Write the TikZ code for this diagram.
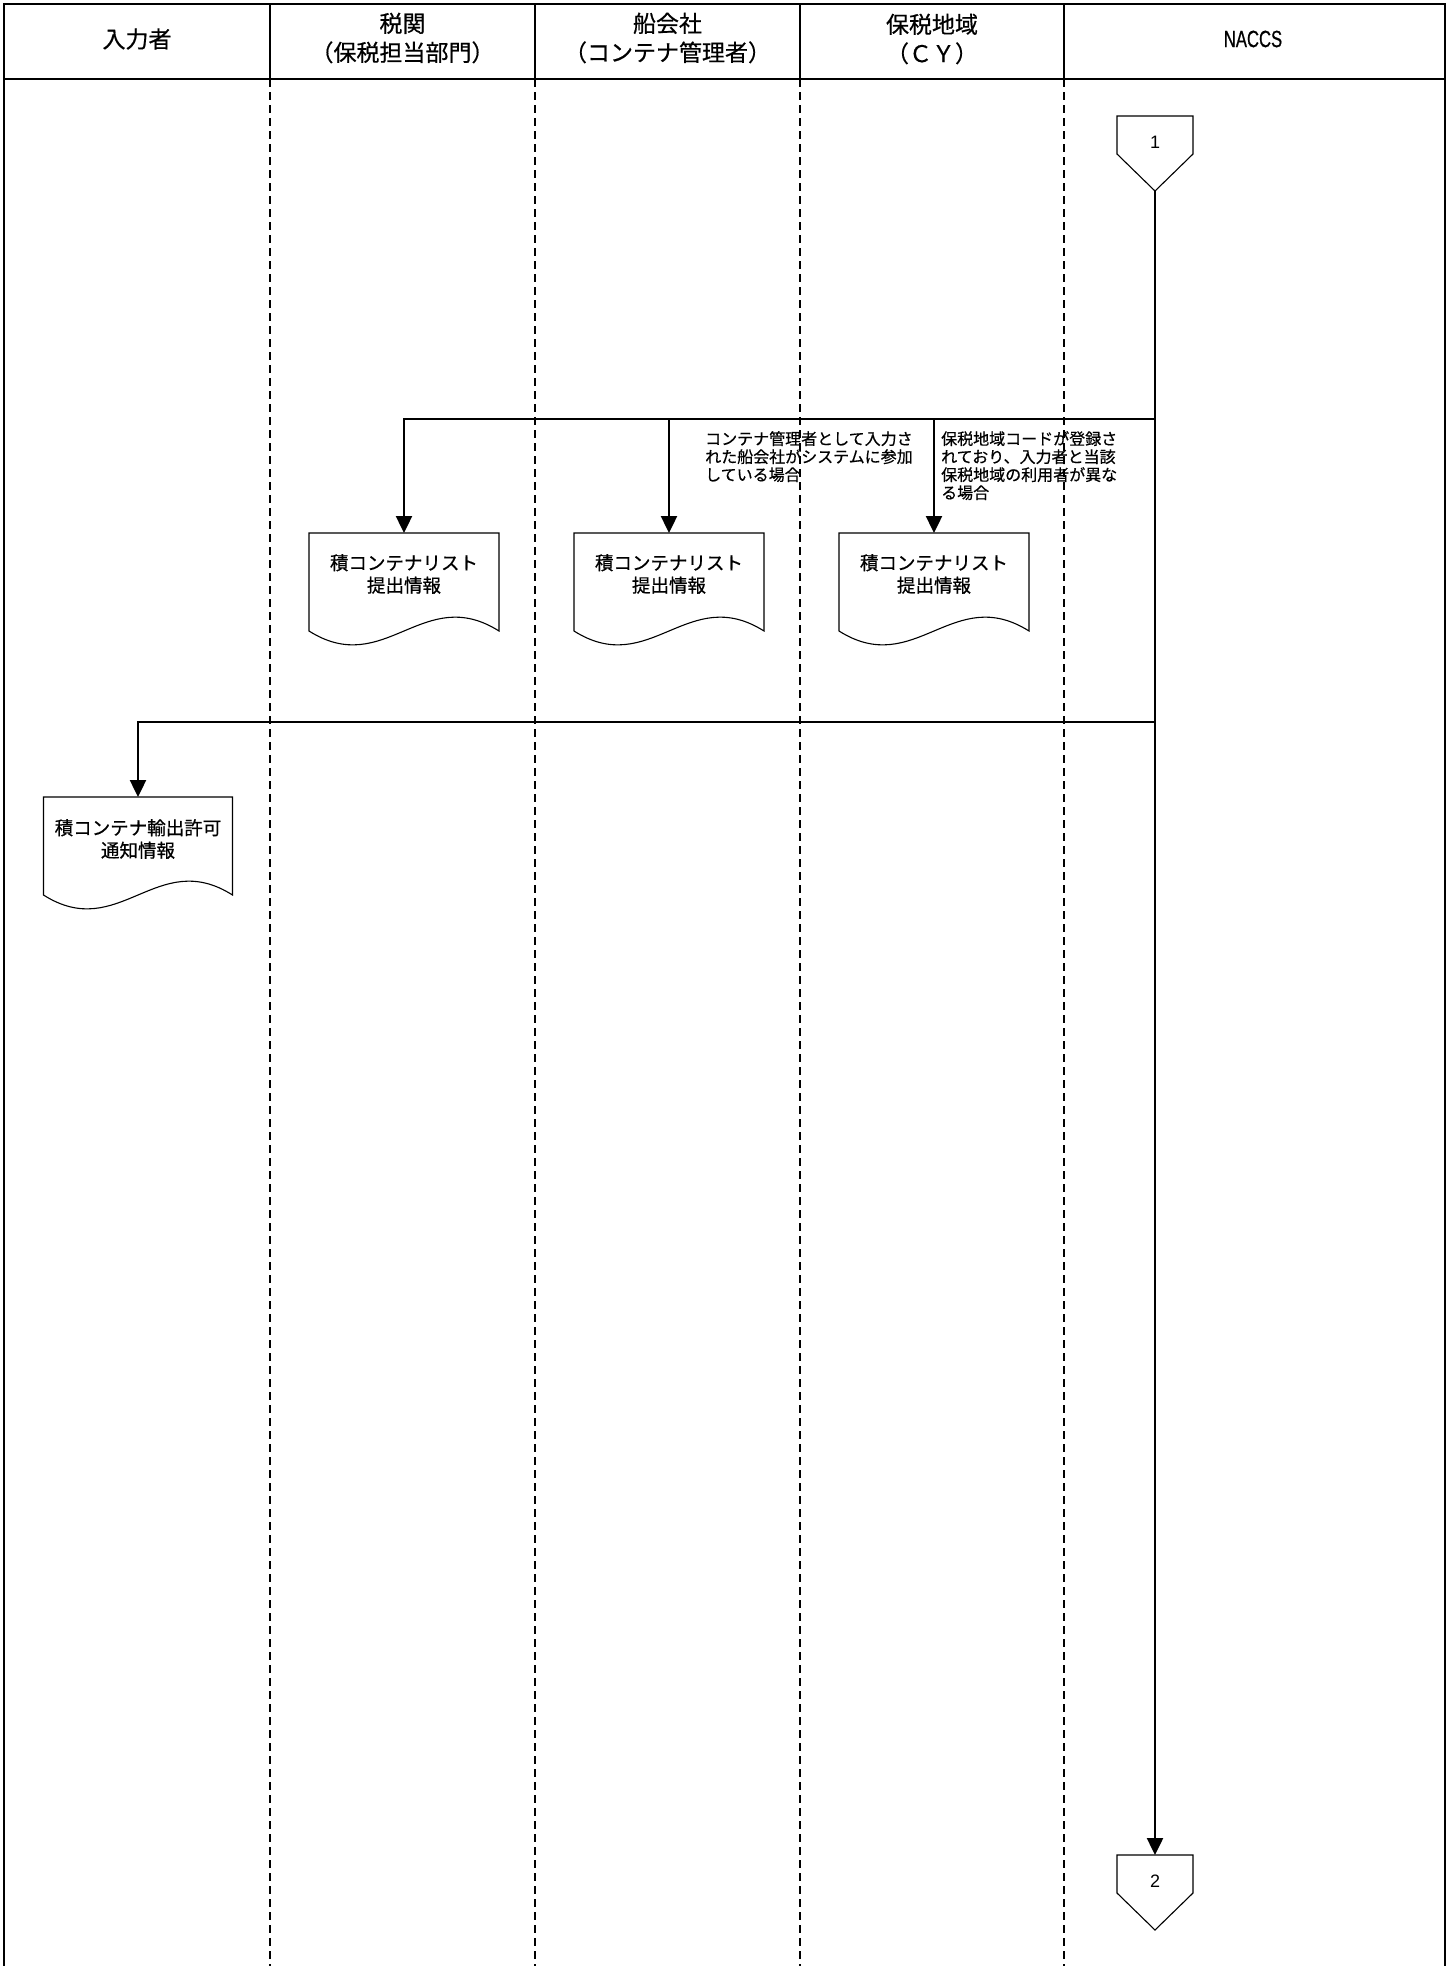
\documentclass[tikz,border=0pt]{standalone}
\usepackage{fontspec}
\setmainfont{Noto Sans CJK JP}[FakeBold=0.6]
\newfontfamily\naccsfont[FakeStretch=0.71,FakeBold=0.6]{Liberation Sans}
\newfontfamily\digitfont{Liberation Sans}
\usetikzlibrary{arrows.meta,calc}
\newcommand\docpath[3]{% cx, top, width
  \draw[docshape] (#1-#3/2,#2) -- (#1+#3/2,#2) -- (#1+#3/2,#2+98)
    .. controls (#1+19,#2+50) and (#1-19,#2+146) .. (#1-#3/2,#2+98) -- cycle;}
\newcommand\offpage[2]{% cx, top
  \draw[pent] (#1-38,#2) -- (#1+38,#2) -- (#1+38,#2+38) -- (#1,#2+75) -- (#1-38,#2+38) -- cycle;}
\begin{document}
\begin{tikzpicture}[x=1pt,y=-1pt,
  lanedash/.style={line width=1.8pt, dash pattern=on 8pt off 5pt},
  frame/.style={line width=2.2pt},
  divider/.style={line width=1.8pt},
  flow/.style={line width=2.4pt, -{Triangle[length=17pt,width=16pt]}},
  hdr/.style={font=\fontsize{23}{29}\selectfont, align=center, inner sep=0},
  doctext/.style={font=\fontsize{18.5}{22.5}\selectfont, align=center, inner sep=0},
  note/.style={font=\fontsize{16}{18}\selectfont, align=left, inner sep=0, anchor=north west},
  docshape/.style={draw, line width=1.1pt, fill=white},
  pent/.style={draw, line width=1.1pt, fill=white},
  pentext/.style={font=\digitfont\fontsize{18}{20}\selectfont, inner sep=0},
  ]
\useasboundingbox (0,0) rectangle (1451,1966);
% lane dividers
\foreach \x in {270,535,800,1064}{
  \draw[divider] (\x,4) -- (\x,79);
  \draw[lanedash] (\x,79) -- (\x,1966);
}
% frame
\draw[frame] (4,1966) -- (4,4) -- (1445,4) -- (1445,1966);
\draw[frame] (4,79) -- (1445,79);
% headers
\node[hdr] (h1) at (137,39) {入力者};
\node[hdr] (h2) at (402.5,38) {税関\\（保税担当部門）};
\node[hdr] (h3) at (667.5,38) {船会社\\（コンテナ管理者）};
\node[hdr] (h4) at (932,39) {保税地域\\（ＣＹ）};
\node[hdr, font=\naccsfont\fontsize{23.5}{26}\selectfont] (h5) at (1253,39) {NACCS};

% off-page connectors
\offpage{1155}{116}
\node[pentext] (c1) at (1155,142) {1};
\coordinate (c1tip) at (1155,191);
\offpage{1155}{1855}
\node[pentext] (c2) at (1155,1881) {2};
\coordinate (c2top) at (1155,1855);

% documents
\docpath{404}{533}{190}
\node[doctext] (d1) at (404,574) {積コンテナリスト\\提出情報};
\coordinate (d1t) at (404,533);
\docpath{669}{533}{190}
\node[doctext] (d2) at (669,574) {積コンテナリスト\\提出情報};
\coordinate (d2t) at (669,533);
\docpath{934}{533}{190}
\node[doctext] (d3) at (934,574) {積コンテナリスト\\提出情報};
\coordinate (d3t) at (934,533);
\docpath{138}{797}{189}
\node[doctext] (d4) at (138,839) {積コンテナ輸出許可\\通知情報};
\coordinate (d4t) at (138,797);

% flows
\coordinate (j1) at (1155,419);
\coordinate (j2) at (1155,722);
\draw[flow] (c1tip) -- (c2top);
\draw[flow] (j1) -| (d1t);
\draw[flow] (j1) -| (d2t);
\draw[flow] (j1) -| (d3t);
\draw[flow] (j2) -| (d4t);

% notes
\node[note] (n1) at (705,431) {コンテナ管理者として入力さ\\れた船会社がシステムに参加\\している場合};
\node[note] (n2) at (941,431) {保税地域コードが登録さ\\れており、入力者と当該\\保税地域の利用者が異な\\る場合};
\end{tikzpicture}
\end{document}
